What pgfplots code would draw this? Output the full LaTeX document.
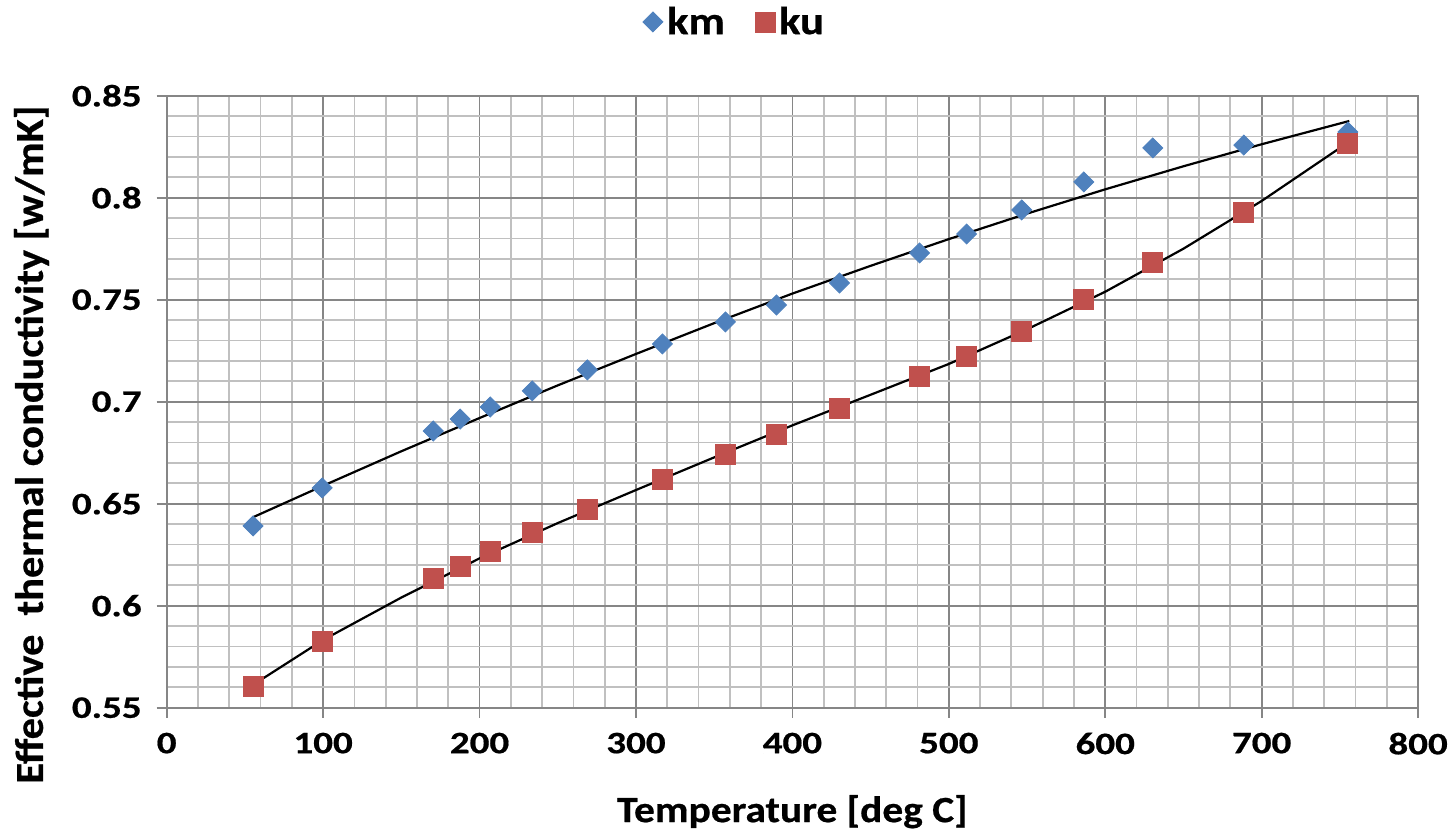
\documentclass[border=0pt]{standalone}
\usepackage{fontspec}
\setmainfont{Carlito}[FakeStretch=1.25, FakeBold=0.6]
\newfontfamily\lgfont{Carlito}[FakeStretch=1.15, FakeBold=0.6]
\newfontfamily\xlfont{Carlito}[FakeStretch=1.12, FakeBold=0.6]
\newfontfamily\ylfont{Carlito}[FakeStretch=1.07, FakeBold=0.6]
\usepackage{pgfplots}
\pgfplotsset{compat=1.18}
\definecolor{kmblue}{HTML}{4F81BD}
\definecolor{kured}{HTML}{C0504D}
\definecolor{majgrid}{RGB}{134,134,134}
\definecolor{mingrid}{RGB}{192,192,192}

\begin{document}
\begin{tikzpicture}
\begin{axis}[
  scale only axis,
  width=625.7pt, height=306pt,
  xmin=0, xmax=800, ymin=0.55, ymax=0.85,
  xtick={0,100,...,800},
  ytick={0.55,0.6,0.65,0.7,0.75,0.8,0.85},
  yticklabels={0.55,0.6,0.65,0.7,0.75,0.8,0.85},
  minor x tick num=4, minor y tick num=4,
  grid=both,
  major grid style={majgrid, line width=0.9pt},
  minor grid style={mingrid, line width=0.9pt},
  axis line style={majgrid, line width=0.9pt},
  tick align=outside, major tick length=5pt, minor tick length=0pt,
  tick style={majgrid, line width=0.9pt},
  xtick pos=bottom, ytick pos=left,
  /pgf/number format/assume math mode=true,
  ticklabel style={font=\fontsize{15.6}{17}\selectfont\bfseries},
  xticklabel style={yshift=-4pt},
  yticklabel style={xshift=-4pt},
  xlabel={Temperature [deg C]},
  ylabel={Effective\ \ thermal conductivity [w/mK]},
  xlabel style={font=\fontsize{18.5}{20}\selectfont\xlfont\bfseries, at={(axis description cs:0.5,-0.170)}, anchor=center},
  ylabel style={font=\fontsize{19.8}{21}\selectfont\ylfont\bfseries, at={(axis description cs:-0.108,0.43)}, anchor=center},
  legend style={at={(0.4545,1.1205)}, anchor=center, draw=none, fill=none,
    legend columns=2, font=\fontsize{19.5}{21}\selectfont\lgfont\bfseries,
    /tikz/every even column/.append style={column sep=13pt}},
  legend cell align=left,
]
\addplot[only marks, mark=square*, mark size=3.54pt, mark options={rotate=45, fill=kmblue, draw=kmblue}]
  coordinates {
  (55.2,0.6391) (99.4,0.6577) (170.4,0.6856) (187.6,0.6915) (206.8,0.6974)
  (233.7,0.7053) (268.9,0.7156) (316.9,0.7283) (357.2,0.7391) (389.8,0.7474)
  (430.1,0.7582) (481.3,0.7729) (511.4,0.7822) (546.6,0.7940) (586.3,0.8077)
  (630.4,0.8244) (688.6,0.8258) (755.1,0.8322)
  };
\addlegendentry{km}
\addplot[only marks, mark=square*, mark size=5pt, mark options={fill=kured, draw=kured}]
  coordinates {
  (55.2,0.5606) (99.4,0.5827) (170.4,0.6136) (187.6,0.6195) (206.8,0.6268)
  (233.7,0.6361) (268.9,0.6474) (316.9,0.6621) (357.2,0.6744) (389.8,0.6842)
  (430.1,0.6969) (481.3,0.7126) (511.4,0.7224) (546.6,0.7347) (586.3,0.7499)
  (630.4,0.7685) (688.6,0.7930) (755.1,0.8268)
  };
\addlegendentry{ku}
% trend lines
\addplot[black, line width=1.1pt, forget plot] coordinates {
  (55,0.6433) (100,0.6588) (150,0.6757) (200,0.6920) (250,0.7080)
  (300,0.7234) (350,0.7385) (400,0.7530) (450,0.7666) (500,0.7797)
  (550,0.7922) (600,0.8041) (650,0.8154) (700,0.8262) (756,0.8376)
  };
\addplot[black, line width=1.1pt, forget plot] coordinates {
  (55,0.5611) (100,0.5832) (150,0.6040) (200,0.6232) (250,0.6405)
  (300,0.6567) (350,0.6727) (400,0.6884) (450,0.7034) (500,0.7185)
  (550,0.7355) (600,0.7539) (650,0.7750) (700,0.7984) (756,0.8275)
  };
\end{axis}
\pgfresetboundingbox
\path (-83.35pt,-63.15pt) rectangle (642.15pt,353.85pt);
\end{tikzpicture}
\end{document}
